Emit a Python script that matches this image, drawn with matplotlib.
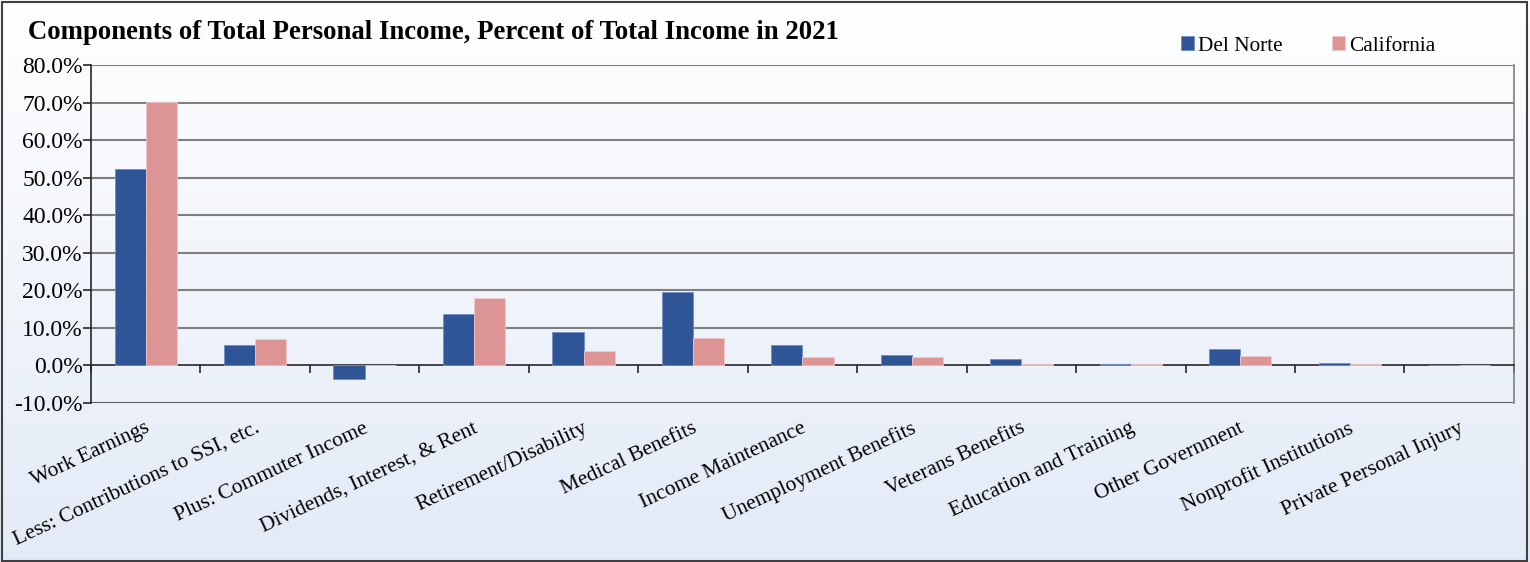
import matplotlib
matplotlib.use('Agg')
import matplotlib.pyplot as plt
from matplotlib.patches import Rectangle
import numpy as np

categories = ['Work Earnings', 'Less: Contributions to SSI, etc.', 'Plus: Commuter Income',
              'Dividends, Interest, & Rent', 'Retirement/Disability', 'Medical Benefits',
              'Income Maintenance', 'Unemployment Benefits', 'Veterans Benefits',
              'Education and Training', 'Other Government', 'Nonprofit Institutions',
              'Private Personal Injury']
del_norte = [52.3, 5.4, -3.5, 13.6, 8.8, 19.5, 5.4, 2.7, 1.6, 0.4, 4.3, 0.6, 0.2]
california = [70.1, 7.0, 0.0, 17.9, 3.9, 7.4, 2.2, 2.3, 0.5, 0.4, 2.5, 0.3, 0.1]
yticks = [-10, 0, 10, 20, 30, 40, 50, 60, 70, 80]

plt.rcParams['font.family'] = ['Liberation Serif', 'DejaVu Serif']

fig = plt.figure(figsize=(15.3, 5.62), dpi=100)

# background gradient (white at top, pale blue at bottom)
bg = fig.add_axes([0, 0, 1, 1], zorder=-10)
grad = np.linspace(0, 1, 256).reshape(-1, 1)
top = np.array([1.0, 1.0, 1.0])
bottom = np.array([0.89, 0.92, 0.97])
img = top + (bottom - top) * grad[:, :, None]
bg.imshow(img, aspect='auto', extent=[0, 1, 0, 1])
bg.axis('off')
fig.patches.append(Rectangle((0.001, 0.002), 0.997, 0.995, transform=fig.transFigure,
                             fill=False, edgecolor='#404040', linewidth=1.5))

ax = fig.add_axes([0.0595, 0.2829, 0.9300, 0.6014])
ax.set_facecolor('none')

x = np.arange(len(categories))
w = 0.285
ax.bar(x - w / 2, del_norte, w, color='#2f5597', edgecolor='#6f8fc8', linewidth=0.6,
       label='Del Norte', zorder=3)
ax.bar(x + w / 2, california, w, color='#dc9594', edgecolor='#f0c8c8', linewidth=0.6,
       label='California', zorder=3)

ax.set_xlim(-0.5, len(categories) - 0.5)
ax.set_ylim(-10, 80)
ax.set_yticks(yticks)
ax.set_yticklabels([f'{v:.1f}%' for v in yticks], fontsize=17)
for v in yticks:
    if v not in (0, -10):
        ax.axhline(v, color='#7f7f7f', linewidth=1.5, zorder=1)
ax.axhline(-10, color='#262626', linewidth=1.8, zorder=1)

ax.spines['top'].set_visible(False)
ax.spines['right'].set_color('#7f7f7f')
ax.spines['right'].set_linewidth(1.2)
ax.spines['left'].set_color('#262626')
ax.spines['left'].set_linewidth(1.2)
ax.spines['bottom'].set_position(('data', 0))
ax.spines['bottom'].set_color('#262626')
ax.spines['bottom'].set_linewidth(1.2)
ax.tick_params(axis='y', length=6, width=1.2, color='#262626', pad=0)

ax.set_xticks(np.arange(len(categories) + 1) - 0.5)
ax.set_xticklabels([])
ax.tick_params(axis='x', length=6, width=1.2, direction='out', color='#262626')

for i, lab in enumerate(categories):
    ax.text(i - 0.01, -14.2, lab, rotation=25, rotation_mode='anchor', ha='right', va='top',
            fontsize=15.5, transform=ax.transData)

fig.text(0.018, 0.943, 'Components of Total Personal Income, Percent of Total Income in 2021',
         fontsize=19.3, fontweight='bold', va='center')
fig.legend(loc='center', bbox_to_anchor=(0.855, 0.918), ncol=2, frameon=False,
           fontsize=15.3, handlelength=0.6, handleheight=0.6, handletextpad=0.2,
           columnspacing=2.3)

fig.savefig('out.png', dpi=100)
